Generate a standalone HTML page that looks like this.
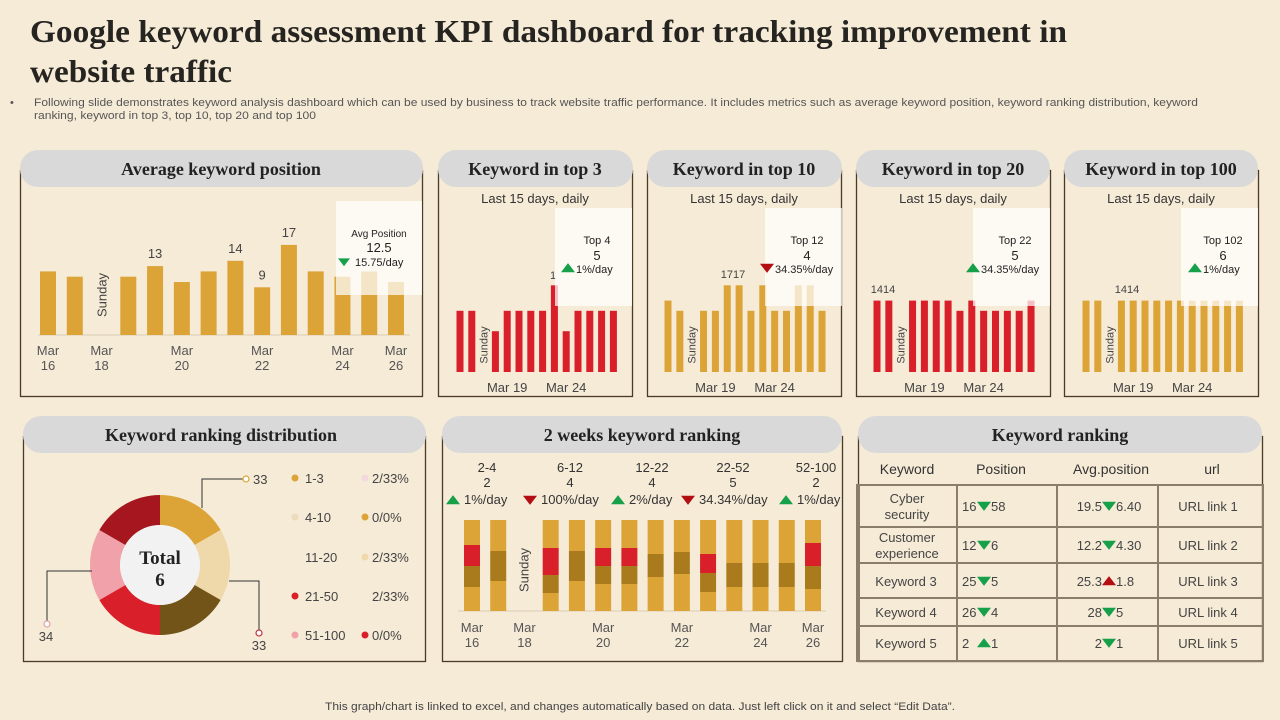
<!DOCTYPE html>
<html><head><meta charset="utf-8">
<style>
html,body{margin:0;padding:0;background:#f6ebd7;}
svg{display:block;font-family:"Liberation Sans",sans-serif;}
.ser{font-family:"Liberation Serif",serif;font-weight:bold;}
.lbl{fill:#444;font-size:13px;}
.sm{fill:#333;font-size:11px;}
</style></head>
<body>
<svg id="page" width="1280" height="720" viewBox="0 0 1280 720">
<rect x="0" y="0" width="1280" height="720" fill="#f6ebd7"/>
<text class="ser" x="30" y="42" font-size="32" fill="#262421" textLength="1037" lengthAdjust="spacingAndGlyphs">Google keyword  assessment KPI dashboard for tracking improvement in</text>
<text class="ser" x="30" y="82" font-size="32" fill="#262421" textLength="202" lengthAdjust="spacingAndGlyphs">website  traffic</text>
<text x="10" y="106" font-size="11" fill="#555">•</text>
<text x="34" y="106" font-size="11" fill="#555" textLength="1164" lengthAdjust="spacingAndGlyphs">Following slide demonstrates keyword analysis dashboard which can be used by business to track website traffic performance. It includes metrics such as average keyword position, keyword ranking distribution, keyword</text>
<text x="34" y="119" font-size="11" fill="#555" textLength="282" lengthAdjust="spacingAndGlyphs">ranking, keyword in top 3, top 10, top 20 and top 100</text>

<!-- panels -->
<g stroke="#4a3b28" stroke-width="1.3" fill="none">
<rect x="20.5" y="170.5" width="402" height="226"/>
<rect x="438.5" y="170.5" width="194" height="226"/>
<rect x="647.5" y="170.5" width="194" height="226"/>
<rect x="856.5" y="170.5" width="194" height="226"/>
<rect x="1064.5" y="170.5" width="194" height="226"/>
<rect x="23.5" y="436.5" width="402" height="225"/>
<rect x="442.5" y="436.5" width="400" height="225"/>
<rect x="858.5" y="436.5" width="404" height="225"/>
</g>
<g fill="#d9d9d9">
<rect x="20" y="150" width="403" height="37" rx="18"/>
<rect x="438" y="150" width="195" height="37" rx="18"/>
<rect x="647" y="150" width="195" height="37" rx="18"/>
<rect x="856" y="150" width="194" height="37" rx="18"/>
<rect x="1064" y="150" width="194" height="37" rx="18"/>
<rect x="23" y="416" width="403" height="37" rx="18"/>
<rect x="442" y="416" width="400" height="37" rx="18"/>
<rect x="858" y="416" width="404" height="37" rx="18"/>
</g>
<g class="ser" font-size="18" fill="#222" text-anchor="middle">
<text x="221" y="175">Average keyword position</text>
<text x="535" y="175">Keyword in top 3</text>
<text x="744" y="175">Keyword in top 10</text>
<text x="953" y="175">Keyword in top 20</text>
<text x="1161" y="175">Keyword in top 100</text>
<text x="221" y="441">Keyword ranking distribution</text>
<text x="642" y="441">2 weeks keyword ranking</text>
<text x="1060" y="441">Keyword ranking</text>
</g>
<g font-size="13" fill="#333" text-anchor="middle">
<text x="535" y="203">Last 15 days, daily</text>
<text x="744" y="203">Last 15 days, daily</text>
<text x="953" y="203">Last 15 days, daily</text>
<text x="1161" y="203">Last 15 days, daily</text>
</g>

<g id="charts"></g>

<!-- table -->
<g font-size="14" fill="#333" text-anchor="middle">
<text x="907" y="474">Keyword</text>
<text x="1001" y="474">Position</text>
<text x="1111" y="474">Avg.position</text>
<text x="1212" y="474">url</text>
</g>
<g stroke="#8a7e6a" stroke-width="2" fill="none">
<rect x="857" y="485" width="406" height="176"/>
<line x1="859" y1="485" x2="859" y2="661"/>
<line x1="957" y1="485" x2="957" y2="661"/>
<line x1="1057" y1="485" x2="1057" y2="661"/>
<line x1="1158" y1="485" x2="1158" y2="661"/>
<line x1="857" y1="527" x2="1263" y2="527"/>
<line x1="857" y1="563" x2="1263" y2="563"/>
<line x1="857" y1="598" x2="1263" y2="598"/>
<line x1="857" y1="626" x2="1263" y2="626"/>
</g>
<g id="table" font-size="13" fill="#444"></g>

<text x="640" y="710" font-size="11" fill="#444" text-anchor="middle" textLength="630" lengthAdjust="spacingAndGlyphs">This graph/chart is linked to excel, and changes automatically based on data. Just left click on it and select “Edit Data”.</text>
</svg>

<script>
// ---------- data ----------
const avgDates = ['Mar 16','','Mar 18','','','Mar 20','','','Mar 22','','','Mar 24','','Mar 26'];
const avgValues = [12,11,null,11,13,10,12,14,9,17,12,11,12,10];
const avgLabels = ['','','','','13','','','14','9','17','','','',''];
const top3Values = [12,12,null,8,12,12,12,12,17,8,12,12,12,12];
const top10Values = [14,12,null,12,12,17,17,12,17,12,12,17,17,12];
const top20Values = [14,14,null,14,14,14,14,12,14,12,12,12,12,14];
const top100Values = [14,14,null,14,14,14,14,14,14,14,14,14,14,14];
const wkDates = ['Mar 16','','Mar 18','','','Mar 20','','','Mar 22','','','Mar 24','','Mar 26'];
const wkBottom = [24,30,null,18,30,27,27,34,37,19,24,24,24,22];
const wkDark   = [21,30,null,18,30,18,18,23,22,19,24,24,24,23];
const wkRed    = [21,0,null,27,0,18,18,0,0,19,0,0,0,23];
const wkTop    = [25,31,null,28,31,28,28,34,32,34,43,43,43,23];
const wkRanges = ['2-4','6-12','12-22','22-52','52-100'];
const wkCounts = ['2','4','4','5','2'];
const wkTrend = ['1%/day','100%/day','2%/day','34.34%/day','1%/day'];
const wkUp = [true,false,true,false,true];
const donutValues = [1,1,1,1,1,1];
const donutColors = ['#dca337','#efd8a9','#725318','#d81f2a','#f0a1a9','#a5161f'];
const legendLeft = ['1-3','4-10','11-20','21-50','51-100'];
const legendRight = ['2/33%','0/0%','2/33%','2/33%','0/0%'];
const kwNames = [['Cyber','security'],['Customer','experience'],['Keyword 3'],['Keyword 4'],['Keyword 5']];
const kwPos = [['16','58',false],['12','6',false],['25','5',false],['26','4',false],['2','1',true]];
const kwAvg = [['19.5','6.40',false,'g'],['12.2','4.30',false,'g'],['25.3','1.8',true,'r'],['28','5',false,'g'],['2','1',false,'g']];
const kwUrl = ['URL link 1','URL link 2','URL link 3','URL link 4','URL link 5'];

const NS='http://www.w3.org/2000/svg';
const root=document.getElementById('charts');
function mk(tag,attrs,parent){const e=document.createElementNS(NS,tag);for(const k in attrs)e.setAttribute(k,attrs[k]);(parent||root).appendChild(e);return e;}
function txt(x,y,s,size,fill,anchor,parent){const e=mk('text',{x:x,y:y,'font-size':size,fill:fill,'text-anchor':anchor||'middle'},parent);e.textContent=s;return e;}
function tri(cx,cy,up,color,s){s=s||7;const p=up?`${cx-s},${cy+s*0.6} ${cx+s},${cy+s*0.6} ${cx},${cy-s*0.7}`:`${cx-s},${cy-s*0.6} ${cx+s},${cy-s*0.6} ${cx},${cy+s*0.7}`;return mk('polygon',{points:p,fill:color});}
const GREEN='#16a04a', RED='#b30f12';

// ---------- average keyword position ----------
(function(){
  const x0=48, step=(396-48)/13, base=335, k=5.3;
  const xs=i=>x0+i*step, ys=v=>base-v*k;
  const ax=mk('line',{x1:38,y1:base,x2:410,y2:base,stroke:'#d9cdb5','stroke-width':1});
  
  
  avgValues.forEach((v,i)=>{
    if(v===null){
      const s=txt(0,0,'Sunday',13,'#444','middle');
      s.setAttribute('transform',`translate(${xs(i)+5},295) rotate(-90)`);
      
      
      return;
    }
    const b=mk('rect',{x:xs(i)-8,y:ys(v),width:16,height:v*k,fill:'#dca337'});
    
    
    if(avgLabels[i]){const t=txt(xs(i),ys(v)-8,avgLabels[i],13,'#444');
      
      }
  });
  avgDates.forEach((d,i)=>{ if(!d) return;
    const p=d.split(' ');
    const t1=txt(xs(i),355,p[0],13,'#555');
    
    
    const t2=txt(xs(i),370,p[1],13,'#555');
    
    
  });
  const ov=mk('rect',{x:336,y:201,width:86,height:94,fill:'#ffffff','fill-opacity':0.72});
  
  
  const a=txt(379,237,'Avg Position',10,'#222');
  
  
  const b=txt(379,252,'12.5',13,'#222');
  
  
  const t=tri(344,262,false,GREEN,6);
  
  
  const c=txt(355,266,'15.75/day',11,'#222','start');
  
  
})();

// ---------- mini charts ----------
function mini(name,x0,step,values,color,lab,box,summary){
  const base=372,k=5.1,xs=i=>x0+i*step;
  values.forEach((v,i)=>{
    if(v===null){
      const s=txt(0,0,'Sunday',11,'#444','middle');
      s.setAttribute('transform',`translate(${xs(i)+4},345) rotate(-90)`);
      
      
      return;
    }
    const b=mk('rect',{x:xs(i)-3.5,y:base-v*k,width:7,height:v*k,fill:color});
    
    
  });
  if(lab){const t=txt(lab[0],lab[1],lab[2],11,'#444');
    
    }
  const ov=mk('rect',{x:box,y:208,width:77,height:98,fill:'#ffffff','fill-opacity':0.72});
  
  
  const cx=box+42;
  const a=txt(cx,244,summary[0],11,'#222');
  
  
  const b=txt(cx,260,summary[1],13,'#222');
  
  
  const tr=tri(summary[4],268,summary[3],summary[3]?GREEN:RED,7);
  
  
  const c=txt(summary[4]+8,273,summary[2],11,'#222','start');
  
  
  const d1=txt(xs(4),392,'Mar 19',13,'#444');
  
  
  const d2=txt(xs(9),392,'Mar 24',13,'#444');
  
  
}
mini('top3',460,11.8,top3Values,'#d81f2a',[553,279,'1'],555,['Top 4','5','1%/day',true,568]);
mini('top10',668,11.85,top10Values,'#dca337',[733,278,'1717'],765,['Top 12','4','34.35%/day',false,767]);
mini('top20',877,11.85,top20Values,'#d81f2a',[883,293,'1414'],973,['Top 22','5','34.35%/day',true,973]);
mini('top100',1086,11.8,top100Values,'#dca337',[1127,293,'1414'],1181,['Top 102','6','1%/day',true,1195]);

// ---------- 2 weeks ranking ----------
(function(){
  const x0=472, step=(813-472)/13, base=611;
  const xs=i=>x0+i*step;
  const ax=mk('line',{x1:458,y1:base,x2:826,y2:base,stroke:'#d9cdb5','stroke-width':1});
  
  
  wkBottom.forEach((v,i)=>{
    if(v===null){
      const s=txt(0,0,'Sunday',13,'#444','middle');
      s.setAttribute('transform',`translate(${xs(i)+4},570) rotate(-90)`);
      
      
      return;
    }
    let y=base;
    const segs=[[wkBottom[i],'#dca337','bottom'],[wkDark[i],'#a97b1c','mid'],[wkRed[i],'#d81f2a','red'],[wkTop[i],'#dca337','top']];
    segs.forEach(s=>{ if(!s[0]) return; y-=s[0];
      const r=mk('rect',{x:xs(i)-8,y:y,width:16,height:s[0],fill:s[1]});
      
      
    });
  });
  wkDates.forEach((d,i)=>{ if(!d) return; const p=d.split(' ');
    const a=txt(xs(i),632,p[0],13,'#555');
    
    
    const b=txt(xs(i),647,p[1],13,'#555');
    
    
  });
  const hx=[487,570,652,733,816], tx=[453,530,618,688,786];
  wkRanges.forEach((r,i)=>{
    const a=txt(hx[i],472,r,13,'#333');
    
    
    const b=txt(hx[i],487,wkCounts[i],13,'#333');
    
    
    const t=tri(tx[i],500,wkUp[i],wkUp[i]?GREEN:RED,7);
    
    
    const c=txt(tx[i]+11,504,wkTrend[i],13,'#333','start');
    
    
  });
})();

// ---------- donut ----------
(function(){
  const cx=160,cy=565,R=70,r=40;
  const tot=donutValues.reduce((a,b)=>a+b,0);
  let ang=0;
  donutValues.forEach((v,i)=>{
    const a0=ang, a1=ang+v/tot*Math.PI*2; ang=a1;
    const p=(a,rad)=>[cx+rad*Math.sin(a),cy-rad*Math.cos(a)];
    const [x1,y1]=p(a0,R),[x2,y2]=p(a1,R),[x3,y3]=p(a1,r),[x4,y4]=p(a0,r);
    const big=(a1-a0)>Math.PI?1:0;
    const s=mk('path',{d:`M${x1},${y1}A${R},${R} 0 ${big} 1 ${x2},${y2}L${x3},${y3}A${r},${r} 0 ${big} 0 ${x4},${y4}Z`,fill:donutColors[i]});
    
    
  });
  const c=mk('circle',{cx:cx,cy:cy,r:r,fill:'#f2f2f2'});
  
  
  const t1=txt(cx,564,'Total',19,'#222');
  t1.setAttribute('class','ser');
  
  
  const t2=txt(cx,586,String(tot),19,'#222');
  t2.setAttribute('class','ser');
  
  
  const leaders=[['M202,508 L202,479 L243,479',246,479,'#dca337','33',253,484,'start'],
                 ['M229,581 L259,581 L259,630',259,633,'#c0303a','33',259,650,'middle'],
                 ['M92,571 L47,571 L47,621',47,624,'#e0a0a5','34',46,641,'middle']];
  leaders.forEach(l=>{
    const p=mk('path',{d:l[0],fill:'none',stroke:'#333','stroke-width':1});
    
    
    const o=mk('circle',{cx:l[1],cy:l[2],r:3,fill:'#fff',stroke:l[3],'stroke-width':1.2});
    
    
    const t=txt(l[5],l[6],l[4],13,'#444',l[7]);
    
    
  });
  const ly=[479,518,558,597,636];
  const lc=['#dca337','#ecdcbd',null,'#d81f2a','#f0a1a9'];
  const rc=['#f3d9dc','#dca337','#efd8a9',null,'#d81f2a'];
  legendLeft.forEach((s,i)=>{
    if(lc[i]){const d=mk('circle',{cx:295,cy:ly[i]-1,r:3.5,fill:lc[i]});
      
      }
    const t=txt(305,ly[i]+4,s,13,'#444','start');
    
    
    if(rc[i]){const d=mk('circle',{cx:365,cy:ly[i]-1,r:3.5,fill:rc[i]});
      
      }
    const u=txt(372,ly[i]+4,legendRight[i],13,'#444','start');
    
    
  });
})();

// ---------- table ----------
(function(){
  const tb=document.getElementById('table');
  const rowMid=[506,545,581,612,643];
  kwNames.forEach((n,i)=>{
    if(n.length===2){
      const a=txt(907,rowMid[i]-3,n[0],13,'#444','middle',tb);
      
      
      const b=txt(907,rowMid[i]+13,n[1],13,'#444','middle',tb);
      
      
    } else {
      const a=txt(906,rowMid[i]+5,n[0],13,'#444','middle',tb);
      
      
    }
    const p=kwPos[i];
    const a=txt(962,rowMid[i]+5,p[0],13,'#444','start',tb);
    
    
    const t=tri(984,rowMid[i],p[2],GREEN,7); tb.appendChild(t);
    
    
    const b=txt(991,rowMid[i]+5,p[1],13,'#444','start',tb);
    
    
    const q=kwAvg[i];
    const c=txt(1102,rowMid[i]+5,q[0],13,'#444','end',tb);
    
    
    const t2=tri(1109,rowMid[i],q[2],q[3]==='g'?GREEN:RED,7); tb.appendChild(t2);
    
    
    const d=txt(1116,rowMid[i]+5,q[1],13,'#444','start',tb);
    
    
    const u=txt(1208,rowMid[i]+5,kwUrl[i],13,'#444','middle',tb);
    
    
  });
})();
</script>
</body></html>
